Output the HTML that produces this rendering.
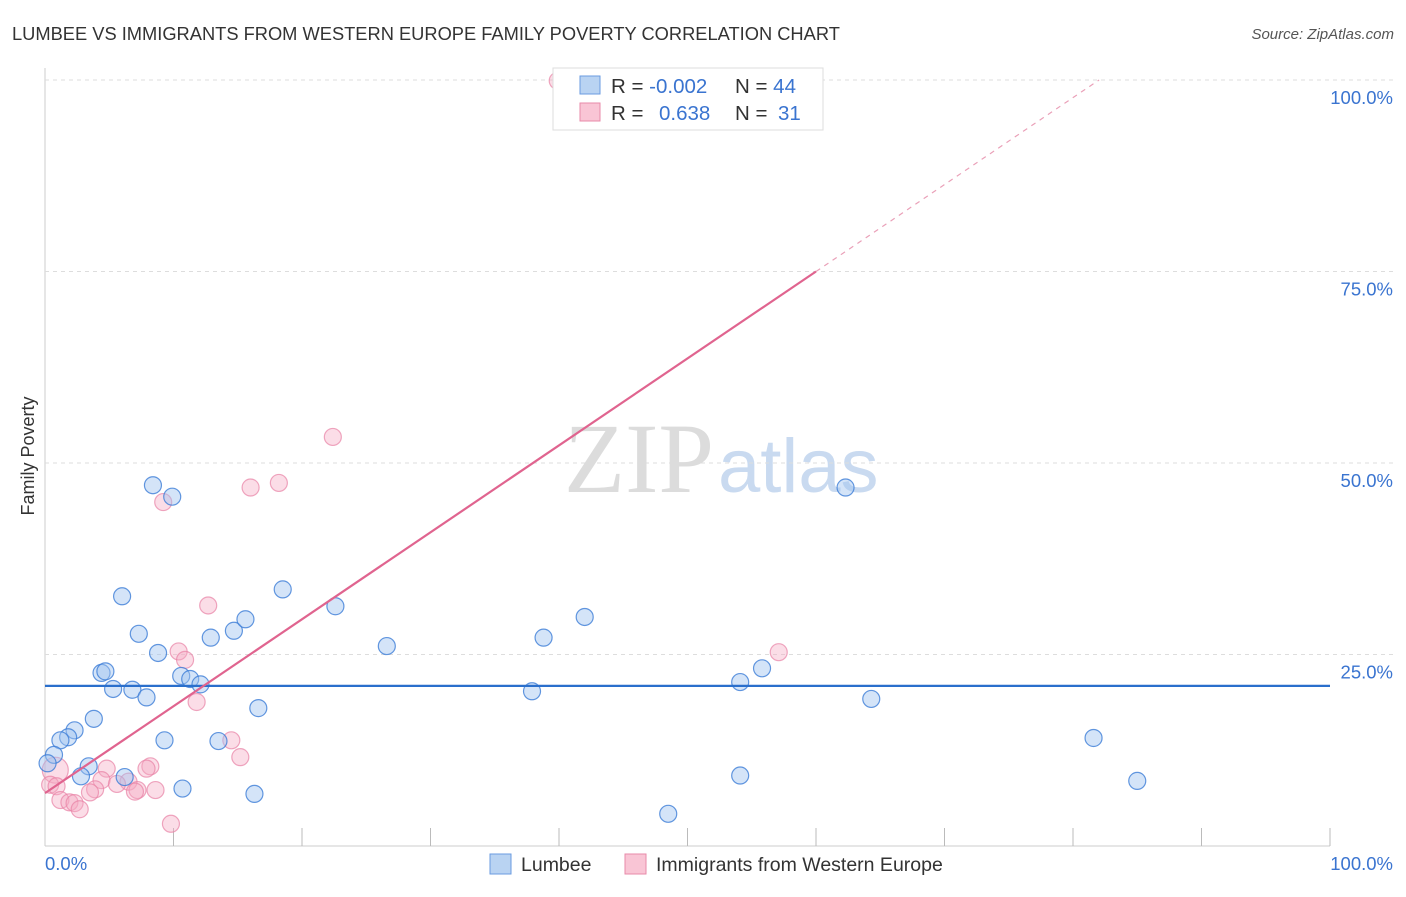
<!DOCTYPE html>
<html><head><meta charset="utf-8"><style>
body{margin:0;background:#fff;font-family:"Liberation Sans",sans-serif;}
</style></head><body>
<svg id="c" width="1406" height="892" xmlns="http://www.w3.org/2000/svg">
<text x="12" y="40" font-size="18.3" fill="#333">LUMBEE VS IMMIGRANTS FROM WESTERN EUROPE FAMILY POVERTY CORRELATION CHART</text>
<text x="1394" y="39" font-size="15" fill="#555" font-style="italic" text-anchor="end">Source: ZipAtlas.com</text>
<text x="714" y="492" font-size="100" fill="#dcdcdc" text-anchor="end" font-family="Liberation Serif,serif">ZIP</text>
<text x="718" y="492" font-size="76" fill="#c9daf0">atlas</text>
<g id="grid"></g><g id="marks"></g><g id="lines"></g>
<text x="34" y="456" font-size="18" fill="#333" transform="rotate(-90 34 456)" text-anchor="middle">Family Poverty</text>
<g>
<rect x="553" y="68" width="270" height="62" fill="#fff" stroke="#ddd"/>
<rect x="580" y="76" width="20" height="18" fill="#b9d3f2" stroke="#6a9be0"/>
<rect x="580" y="103" width="20" height="18" fill="#f9c5d5" stroke="#e88aa9"/>
<text x="611" y="93" font-size="20.5" fill="#333">R = <tspan fill="#3a74d0">-0.002</tspan></text>
<text x="735" y="93" font-size="20.5" fill="#333">N = <tspan fill="#3a74d0">44</tspan></text>
<text x="611" y="120" font-size="20.5" fill="#333">R = <tspan fill="#3a74d0" x="659">0.638</tspan></text>
<text x="735" y="120" font-size="20.5" fill="#333">N = <tspan fill="#3a74d0" x="778">31</tspan></text>
</g>
<g>
<rect x="490" y="854" width="21" height="20" fill="#b9d3f2" stroke="#6a9be0"/>
<text x="521" y="871" font-size="19.5" fill="#333">Lumbee</text>
<rect x="625" y="854" width="21" height="20" fill="#f9c5d5" stroke="#e88aa9"/>
<text x="656" y="871" font-size="19.5" fill="#333">Immigrants from Western Europe</text>
</g>
</svg>
<script>
const blueX=[8.4,9.9,6.0,7.3,8.8,12.9,14.7,15.6,18.5,22.6,26.6,38.8,42.0,62.3,4.4,4.7,5.3,6.8,7.9,10.6,11.3,12.1,3.8,2.3,1.8,1.2,0.7,0.2,3.4,2.8,6.2,9.3,13.5,16.6,10.7,16.3,37.9,54.1,55.8,64.3,81.6,54.1,85.0,48.5];
const blueY=[47.1,45.6,32.6,27.7,25.2,27.2,28.1,29.6,33.5,31.3,26.1,27.2,29.9,46.8,22.6,22.8,20.5,20.4,19.4,22.2,21.8,21.1,16.6,15.1,14.2,13.8,11.9,10.8,10.4,9.1,9.0,13.8,13.7,18.0,7.5,6.8,20.2,21.4,23.2,19.2,14.1,9.2,8.5,4.2];
const pinkX=[39.9,22.4,16.0,18.2,9.2,12.7,10.4,10.9,11.8,14.5,15.2,57.1,8.2,7.9,4.8,0.8,0.4,0.9,4.4,6.5,5.6,3.9,3.5,7.2,8.6,1.2,1.9,2.3,2.7,9.8,7.0];
const pinkY=[99.9,53.4,46.8,47.4,44.9,31.4,25.4,24.3,18.8,13.8,11.6,25.3,10.4,10.1,10.1,9.9,8.0,7.8,8.6,8.4,8.1,7.4,7.0,7.3,7.3,6.0,5.7,5.6,4.8,2.9,7.1];
const pinkBig=[15];
const blueLine=[20.9,20.9];
const pinkLine=[6.9,1.135];
const yTicks=[25,50,75,100];
const yTickLabels=["25.0%","50.0%","75.0%","100.0%"];
const xTicks=[0,10,20,30,40,50,60,70,80,90,100];
const X=v=>45+v*12.85, Y=v=>846-v*7.66;
const NS="http://www.w3.org/2000/svg";
function mk(p,t,a){const e=document.createElementNS(NS,t);for(const k in a)e.setAttribute(k,a[k]);p.appendChild(e);return e;}
const g=document.getElementById('grid'),m=document.getElementById('marks'),l=document.getElementById('lines');
mk(g,'line',{x1:45,y1:68,x2:45,y2:846,stroke:'#ccc'});
mk(g,'line',{x1:45,y1:846,x2:1330,y2:846,stroke:'#ccc'});
yTicks.forEach((t,i)=>{
 const gl=mk(g,'line',{x1:45,y1:Y(t),x2:1395,y2:Y(t),stroke:'#ddd','stroke-dasharray':'4,4'});
 
 
 const tx=mk(g,'text',{x:1393,y:Y(t)+24,'font-size':18.5,fill:'#3a74d0','text-anchor':'end'});tx.textContent=yTickLabels[i];
 
 
});
xTicks.forEach(t=>{if(t>0){const tk=mk(g,'line',{x1:X(t),y1:828,x2:X(t),y2:846,stroke:'#bbb'});
 
 }});
const x0=mk(g,'text',{x:45,y:870,'font-size':18.5,fill:'#3a74d0'});x0.textContent='0.0%';


const x1=mk(g,'text',{x:1393,y:870,'font-size':18.5,fill:'#3a74d0','text-anchor':'end'});x1.textContent='100.0%';


pinkX.forEach((v,i)=>{const c=mk(m,'circle',{cx:X(v),cy:Y(pinkY[i]),r:pinkBig.includes(i)?13:8.5,fill:'rgba(246,170,195,0.4)',stroke:'rgba(232,130,165,0.7)','stroke-width':1.2});
 
 });
blueX.forEach((v,i)=>{const c=mk(m,'circle',{cx:X(v),cy:Y(blueY[i]),r:8.5,fill:'rgba(160,195,240,0.45)',stroke:'rgba(60,125,215,0.8)','stroke-width':1.2});
 
 });
const bl=mk(l,'line',{x1:X(0),y1:Y(blueLine[0]),x2:X(100),y2:Y(blueLine[1]),stroke:'#2a6fcc','stroke-width':2.2});


const xe=(100-pinkLine[0])/pinkLine[1];
const ps=mk(l,'line',{x1:X(0),y1:Y(pinkLine[0]),x2:X(60),y2:Y(pinkLine[0]+pinkLine[1]*60),stroke:'#e0648f','stroke-width':2.2});


const pd=mk(l,'line',{x1:X(60),y1:Y(pinkLine[0]+pinkLine[1]*60),x2:X(xe),y2:Y(100),stroke:'#eaa0b8','stroke-width':1.2,'stroke-dasharray':'5,5'});


</script>
</body></html>
